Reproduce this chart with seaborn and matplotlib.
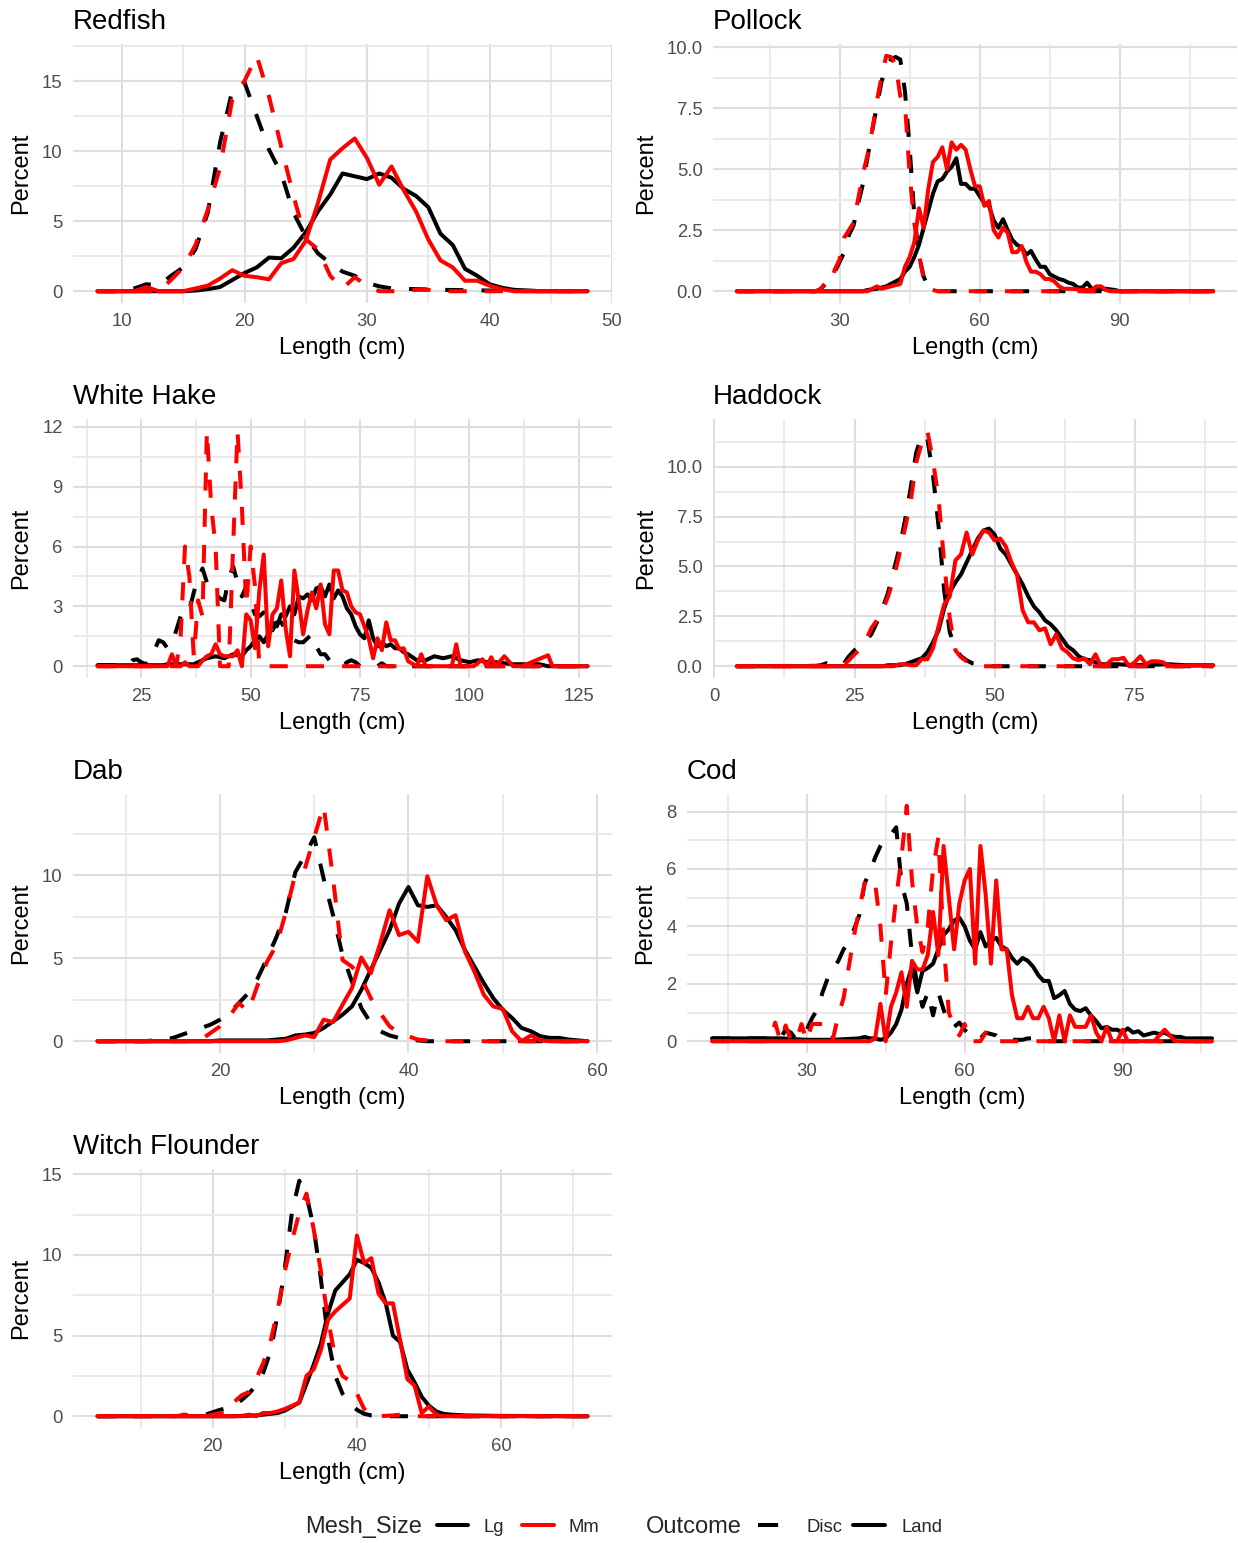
import pandas as pd
import matplotlib
matplotlib.use("Agg")
import matplotlib.pyplot as plt
from matplotlib.lines import Line2D
from matplotlib.ticker import MultipleLocator, FormatStrFormatter
import seaborn as sns

# -------------------------
# Length frequency data, (length cm, percent)
# -------------------------
redfish_lg_disc = [(8, 0), (10, 0), (11, 0.2), (12, 0.5), (13, 0.4), (14, 1.1), (15, 1.7), (16, 3.0), (17, 5.6),
                   (18, 10.6), (19, 14.3), (20, 14.9), (21, 12.5), (22, 10.1), (23, 8.4), (24, 5.6), (25, 3.9),
                   (26, 2.7), (27, 2.0), (28, 1.4), (29, 1.1), (30, 0.6), (31, 0.35), (32, 0.2), (34, 0.15),
                   (36, 0.1), (40, 0.05), (48, 0)]
redfish_lg_land = [(8, 0), (15, 0), (16, 0.05), (17, 0.15), (18, 0.3), (19, 0.8), (20, 1.3), (21, 1.7), (22, 2.4),
                   (23, 2.35), (24, 3.1), (25, 4.2), (26, 5.7), (27, 6.9), (28, 8.4), (29, 8.2), (30, 8.0),
                   (31, 8.4), (32, 8.1), (33, 7.3), (34, 6.8), (35, 6.0), (36, 4.1), (37, 3.3), (38, 1.6),
                   (39, 1.1), (40, 0.5), (41, 0.25), (42, 0.1), (43, 0.05), (44, 0), (48, 0)]
redfish_mm_disc = [(8, 0), (13, 0), (14, 0.8), (15, 1.7), (16, 3.3), (17, 5.8), (18, 8.8), (19, 13.7), (20, 15.0),
                   (21, 16.8), (22, 13.9), (23, 10.3), (24, 6.8), (25, 3.7), (26, 3.0), (27, 1.1), (28, 0.2),
                   (29, 1.0), (30, 0.4), (31, 0), (33, 0), (34, 0.1), (35, 0.1), (36, 0), (48, 0)]
redfish_mm_land = [(8, 0), (11, 0), (12, 0.3), (13, 0), (15, 0), (16, 0.2), (17, 0.4), (18, 0.9), (19, 1.5),
                   (20, 1.1), (21, 1.0), (22, 0.85), (23, 2.0), (24, 2.3), (25, 3.6), (26, 6.3), (27, 9.4),
                   (28, 10.2), (29, 10.9), (30, 9.5), (31, 7.6), (32, 8.9), (33, 7.2), (34, 5.7), (35, 3.7),
                   (36, 2.2), (37, 1.7), (38, 0.75), (39, 0.75), (40, 0.4), (41, 0.15), (42, 0), (48, 0)]

pollock_lg_disc = [(8, 0), (25, 0), (26, 0.1), (27, 0.3), (28, 0.4), (29, 0.8), (30, 1.2), (31, 1.6), (32, 2.3),
                   (33, 2.7), (34, 3.6), (35, 4.4), (36, 5.5), (37, 6.6), (38, 7.6), (39, 8.6), (40, 9.2),
                   (41, 9.5), (42, 9.6), (43, 9.5), (44, 8.2), (45, 5.9), (46, 3.1), (47, 1.5), (48, 0.6),
                   (49, 0.2), (50, 0.05), (51, 0), (110, 0)]
pollock_lg_land = [(8, 0), (35, 0), (36, 0.05), (38, 0.1), (39, 0.15), (40, 0.2), (41, 0.3), (42, 0.4), (43, 0.5),
                   (44, 0.8), (45, 1.0), (46, 1.4), (47, 1.9), (48, 2.6), (49, 3.3), (50, 4.0), (51, 4.5),
                   (52, 4.6), (53, 4.9), (54, 5.1), (55, 5.45), (56, 4.4), (57, 4.4), (58, 4.2), (59, 4.2),
                   (60, 3.9), (61, 3.6), (62, 3.5), (63, 2.9), (64, 2.6), (65, 2.95), (66, 2.5), (67, 2.1),
                   (68, 1.9), (69, 1.8), (70, 1.5), (71, 1.65), (72, 1.3), (73, 1.0), (74, 1.0), (75, 0.7),
                   (76, 0.6), (77, 0.5), (78, 0.45), (79, 0.35), (80, 0.3), (81, 0.15), (82, 0.15), (83, 0.35),
                   (84, 0.1), (87, 0.1), (89, 0.05), (90, 0), (110, 0)]
pollock_mm_disc = [(8, 0), (25, 0), (26, 0.1), (27, 0.35), (28, 0.3), (29, 0.9), (30, 1.3), (31, 2.2), (32, 2.5),
                   (33, 2.8), (34, 3.8), (35, 4.8), (36, 5.6), (37, 6.6), (38, 7.8), (39, 8.8), (40, 9.65),
                   (41, 9.6), (42, 9.3), (43, 8.0), (44, 7.7), (45, 4.8), (46, 2.8), (47, 1.5), (48, 0.5),
                   (49, 0.1), (50, 0.05), (51, 0), (110, 0)]
pollock_mm_land = [(8, 0), (36, 0), (37, 0.1), (38, 0.2), (39, 0.1), (40, 0.15), (41, 0.2), (42, 0.25), (43, 0.3),
                   (44, 1.0), (45, 1.4), (46, 2.0), (47, 3.4), (48, 2.6), (49, 4.2), (50, 5.3), (51, 5.5),
                   (52, 5.9), (53, 5.0), (54, 6.1), (55, 5.8), (56, 6.0), (57, 5.8), (58, 5.0), (59, 4.3),
                   (60, 4.3), (61, 3.5), (62, 3.7), (63, 2.5), (64, 2.2), (65, 2.6), (66, 2.4), (67, 1.6),
                   (68, 1.6), (69, 1.85), (70, 1.2), (71, 0.8), (72, 0.8), (73, 0.7), (74, 0.5), (75, 0.5),
                   (76, 0.4), (77, 0.2), (78, 0.1), (80, 0.1), (82, 0.05), (84, 0.05), (85, 0.2), (86, 0.2),
                   (87, 0.05), (88, 0), (110, 0)]

whitehake_lg_disc = [(15, 0.05), (22, 0.05), (23, 0.3), (24, 0.35), (25, 0.2), (26, 0.1), (27, 0.3), (28, 0.8),
                     (29, 1.3), (30, 1.2), (31, 0.9), (32, 1.1), (33, 1.8), (34, 2.5), (35, 2.9), (36, 2.8),
                     (37, 3.7), (38, 4.4), (39, 4.9), (40, 4.2), (41, 4.0), (42, 3.6), (43, 3.4), (44, 3.3),
                     (45, 4.4), (46, 5.0), (47, 4.2), (48, 3.5), (49, 4.0), (50, 3.2), (51, 2.6), (52, 2.5),
                     (53, 2.7), (54, 2.1), (55, 1.8), (56, 2.2), (57, 2.2), (58, 1.8), (59, 1.5), (60, 1.3),
                     (61, 1.2), (62, 1.2), (63, 1.4), (64, 1.6), (65, 1.0), (66, 0.6), (67, 0.6), (68, 0.3),
                     (69, 0.1), (71, 0), (72, 0.2), (73, 0.3), (74, 0.2), (75, 0), (79, 0), (80, 0.15), (81, 0),
                     (127, 0)]
whitehake_lg_land = [(15, 0.05), (30, 0.05), (31, 0.1), (37, 0.1), (38, 0.2), (39, 0.3), (40, 0.4), (42, 0.5),
                     (44, 0.4), (46, 0.6), (48, 0.5), (49, 0.8), (50, 1.0), (51, 1.3), (52, 1.5), (53, 1.2),
                     (54, 1.6), (55, 2.2), (56, 2.0), (57, 2.6), (58, 2.5), (59, 3.0), (60, 2.6), (61, 3.5),
                     (62, 3.4), (63, 3.6), (64, 3.3), (65, 3.9), (66, 4.0), (67, 3.5), (68, 4.1), (69, 3.4),
                     (70, 3.8), (71, 3.5), (72, 2.9), (73, 2.6), (74, 2.0), (75, 1.6), (76, 1.4), (77, 2.3),
                     (78, 1.4), (79, 1.0), (80, 1.2), (81, 1.0), (82, 1.1), (83, 0.9), (84, 0.9), (85, 0.7),
                     (86, 0.6), (88, 0.3), (90, 0.3), (92, 0.5), (94, 0.4), (96, 0.5), (98, 0.3), (100, 0.2),
                     (102, 0.3), (104, 0.2), (106, 0.2), (110, 0.1), (116, 0.1), (118, 0), (127, 0)]
whitehake_mm_disc = [(15, 0), (33, 0), (34, 1.5), (35, 6.0), (36, 4.5), (37, 0.5), (38, 3.3), (39, 2.5),
                     (40, 11.8), (41, 8.0), (42, 6.0), (43, 0), (45, 0), (46, 6.0), (47, 11.8), (48, 8.0),
                     (49, 3.0), (50, 6.0), (51, 4.0), (52, 0), (127, 0)]
whitehake_mm_land = [(15, 0), (31, 0), (32, 0.6), (33, 0), (34, 0), (35, 0.2), (36, 0), (38, 0), (39, 0.3),
                     (40, 0.5), (41, 0.6), (42, 1.1), (43, 0.6), (44, 0.5), (45, 0.5), (46, 0.5), (47, 0.8),
                     (48, 0), (49, 2.6), (50, 2.3), (51, 0.9), (52, 3.8), (53, 5.6), (54, 1.0), (55, 2.6),
                     (56, 2.9), (57, 4.3), (58, 1.9), (59, 0.5), (60, 4.8), (61, 3.3), (62, 1.6), (63, 2.8),
                     (64, 3.7), (65, 2.9), (66, 4.1), (67, 2.1), (68, 1.6), (69, 4.8), (70, 4.8), (71, 3.8),
                     (72, 3.7), (73, 3.0), (74, 2.7), (75, 2.6), (76, 2.0), (77, 1.4), (78, 0.4), (79, 1.4),
                     (80, 0.8), (81, 2.2), (82, 1.3), (83, 1.3), (84, 0.85), (85, 0.9), (86, 0.25), (88, 0),
                     (89, 0.6), (90, 0), (96, 0), (97, 1.1), (98, 0), (101, 0), (103, 0.35), (104, 0),
                     (105, 0.45), (106, 0), (108, 0.5), (110, 0), (112, 0), (118, 0.55), (119, 0), (127, 0)]

haddock_lg_disc = [(4, 0), (18, 0.02), (19, 0.05), (20, 0.15), (21, 0.05), (23, 0.1), (24, 0.5), (25, 0.8),
                   (26, 1.0), (27, 1.3), (28, 1.6), (29, 2.2), (30, 2.9), (31, 3.7), (32, 4.8), (33, 5.9),
                   (34, 7.3), (35, 8.9), (36, 10.7), (37, 11.6), (38, 11.4), (39, 9.6), (40, 7.0), (41, 3.8),
                   (42, 1.7), (43, 0.9), (44, 0.5), (45, 0.3), (46, 0.15), (47, 0.1), (48, 0.05), (49, 0), (89, 0)]
haddock_lg_land = [(4, 0), (30, 0), (31, 0.05), (33, 0.05), (34, 0.1), (35, 0.2), (36, 0.3), (37, 0.4), (38, 0.7),
                   (39, 1.2), (40, 1.8), (41, 2.9), (42, 3.7), (43, 4.2), (44, 4.6), (45, 5.2), (46, 5.8),
                   (47, 6.4), (48, 6.8), (49, 6.9), (50, 6.6), (51, 5.9), (52, 5.6), (53, 5.1), (54, 4.6),
                   (55, 4.1), (56, 3.5), (57, 3.0), (58, 2.7), (59, 2.3), (60, 2.1), (61, 1.8), (62, 1.4),
                   (63, 1.0), (64, 0.8), (65, 0.5), (66, 0.35), (67, 0.3), (68, 0.2), (69, 0.1), (72, 0.1),
                   (75, 0.05), (81, 0.1), (84, 0.05), (89, 0.05)]
haddock_mm_disc = [(4, 0), (22, 0), (23, 0.05), (24, 0.3), (25, 0.6), (26, 0.85), (27, 1.3), (28, 1.9), (29, 2.3),
                   (30, 2.8), (31, 3.5), (32, 4.4), (33, 5.6), (34, 6.9), (35, 8.2), (36, 10.2), (37, 11.2),
                   (38, 11.8), (39, 10.3), (40, 8.4), (41, 5.2), (42, 2.4), (43, 0.8), (44, 0.45), (45, 0.25),
                   (46, 0.1), (47, 0.05), (48, 0), (89, 0)]
haddock_mm_land = [(4, 0), (32, 0), (33, 0.1), (34, 0.1), (35, 0.05), (36, 0.05), (37, 0.35), (38, 0.35),
                   (39, 0.9), (40, 2.0), (41, 3.1), (42, 3.5), (43, 5.3), (44, 5.6), (45, 6.7), (46, 5.6),
                   (47, 6.3), (48, 6.8), (49, 6.7), (50, 6.3), (51, 6.4), (52, 6.0), (53, 5.2), (54, 4.6),
                   (55, 2.8), (56, 2.2), (57, 2.2), (58, 1.8), (59, 1.9), (60, 1.1), (61, 1.6), (62, 0.9),
                   (63, 0.7), (64, 0.4), (65, 0.3), (66, 0.4), (67, 0.1), (68, 0.6), (69, 0), (70, 0.1),
                   (71, 0.35), (72, 0.35), (73, 0.42), (74, 0), (75, 0.2), (76, 0.5), (77, 0.1), (78, 0.25),
                   (79, 0.25), (80, 0.2), (81, 0.05), (82, 0), (89, 0.05)]

dab_lg_disc = [(7, 0), (12, 0), (13, 0.05), (14, 0.1), (15, 0.2), (16, 0.4), (17, 0.6), (18, 0.8), (19, 1.0),
               (20, 1.3), (21, 1.7), (22, 2.3), (23, 2.9), (24, 3.8), (25, 5.0), (26, 6.3), (27, 7.8), (28, 10.2),
               (29, 11.2), (30, 12.3), (31, 9.8), (32, 7.6), (33, 5.2), (34, 3.6), (35, 2.0), (36, 1.1),
               (37, 0.6), (38, 0.35), (39, 0.2), (40, 0.1), (41, 0.05), (42, 0), (59, 0)]
dab_lg_land = [(7, 0), (19, 0), (20, 0.05), (25, 0.05), (26, 0.1), (27, 0.15), (28, 0.35), (29, 0.4), (30, 0.5),
               (31, 0.8), (32, 1.2), (33, 1.6), (34, 2.1), (35, 3.1), (36, 4.3), (37, 5.5), (38, 6.7), (39, 8.3),
               (40, 9.3), (41, 8.2), (42, 8.1), (43, 8.2), (44, 7.5), (45, 6.7), (46, 5.5), (47, 4.5),
               (48, 3.5), (49, 2.6), (50, 1.9), (51, 1.4), (52, 0.8), (53, 0.6), (54, 0.3), (55, 0.2),
               (56, 0.2), (57, 0.1), (58, 0.05), (59, 0)]
dab_mm_disc = [(7, 0), (17, 0), (18, 0.1), (19, 0.5), (20, 0.9), (21, 1.5), (22, 2.3), (23, 1.8), (24, 3.4),
               (25, 4.8), (26, 5.8), (27, 7.8), (28, 10.1), (29, 10.4), (30, 12.3), (31, 14.2), (32, 9.8),
               (33, 4.9), (34, 4.5), (35, 3.8), (36, 2.6), (37, 1.7), (38, 0.9), (39, 0.5), (40, 0.3),
               (41, 0.1), (42, 0.05), (43, 0), (59, 0)]
dab_mm_land = [(7, 0), (26, 0), (27, 0.05), (28, 0.2), (29, 0.35), (30, 0.25), (31, 1.3), (32, 1.15), (33, 2.2),
               (34, 3.2), (35, 5.05), (36, 4.1), (37, 5.9), (38, 7.9), (39, 6.4), (40, 6.6), (41, 6.0),
               (42, 9.95), (43, 8.2), (44, 7.3), (45, 7.6), (46, 5.4), (47, 4.2), (48, 2.8), (49, 2.1),
               (50, 1.95), (51, 0.6), (52, 0), (53, 0.35), (54, 0.05), (55, 0), (59, 0)]

cod_lg_disc = [(12, 0.1), (25, 0.1), (26, 0.4), (27, 0.3), (28, 0.05), (29, 0.2), (30, 0.4), (31, 0.8), (32, 1.1),
               (33, 1.7), (34, 2.2), (35, 2.5), (36, 2.8), (37, 3.2), (38, 3.5), (39, 3.9), (40, 4.4), (41, 5.5),
               (42, 5.9), (43, 6.4), (44, 6.8), (45, 7.1), (46, 7.2), (47, 7.45), (48, 5.5), (49, 4.8),
               (50, 3.0), (51, 2.0), (52, 1.2), (53, 1.7), (54, 0.9), (55, 1.7), (56, 1.1), (57, 0.6),
               (58, 0.5), (59, 0.65), (60, 0.4), (61, 0.2), (62, 0.05), (63, 0.1), (64, 0.3), (65, 0.25),
               (66, 0.2), (67, 0.05), (71, 0.05), (72, 0.1), (73, 0.1), (74, 0), (107, 0)]
cod_lg_land = [(12, 0.1), (25, 0.1), (30, 0.05), (35, 0.05), (40, 0.1), (41, 0.15), (42, 0.1), (43, 0.1),
               (44, 0.05), (45, 0.1), (46, 0.3), (47, 0.6), (48, 1.1), (49, 2.0), (50, 2.6), (51, 1.7),
               (52, 2.45), (53, 2.55), (54, 2.7), (55, 3.2), (56, 3.7), (57, 3.9), (58, 4.2), (59, 4.3),
               (60, 4.0), (61, 3.5), (62, 3.2), (63, 3.8), (64, 3.3), (65, 3.5), (66, 3.6), (67, 3.3),
               (68, 3.2), (69, 2.9), (70, 2.7), (71, 2.9), (72, 2.8), (73, 2.6), (74, 2.3), (75, 2.1),
               (76, 2.1), (77, 1.5), (78, 1.6), (79, 1.75), (80, 1.3), (81, 1.1), (82, 1.05), (83, 1.15),
               (84, 0.9), (85, 0.7), (86, 0.45), (87, 0.5), (88, 0.4), (89, 0.4), (90, 0.3), (91, 0.45),
               (92, 0.3), (93, 0.35), (94, 0.2), (95, 0.25), (96, 0.3), (97, 0.25), (98, 0.3), (99, 0.2),
               (100, 0.15), (101, 0.15), (102, 0.1), (107, 0.1)]
cod_mm_disc = [(12, 0), (23, 0), (24, 0.65), (25, 0), (26, 0.55), (27, 0), (28, 0), (29, 0.6), (30, 0),
               (31, 0.6), (34, 0.6), (35, 0.1), (36, 0.9), (37, 1.5), (38, 2.6), (39, 3.7), (40, 4.6),
               (41, 5.5), (42, 5.3), (43, 5.5), (44, 4.0), (45, 1.6), (46, 3.4), (47, 5.0), (48, 6.4),
               (49, 8.2), (50, 5.6), (51, 4.0), (52, 3.1), (53, 4.0), (54, 6.0), (55, 7.1), (56, 3.5),
               (57, 1.0), (58, 0.5), (59, 0.2), (60, 0.6), (61, 0), (63, 0), (64, 0.3), (65, 0), (107, 0)]
cod_mm_land = [(12, 0), (42, 0), (43, 0.1), (44, 1.3), (45, 0), (46, 1.2), (47, 1.7), (48, 2.4), (49, 1.2),
               (50, 2.8), (51, 2.5), (52, 2.5), (53, 3.0), (54, 4.5), (55, 3.0), (56, 6.8), (57, 5.0),
               (58, 3.2), (59, 4.8), (60, 5.6), (61, 6.0), (62, 2.7), (63, 6.8), (64, 5.1), (65, 2.7),
               (66, 5.6), (67, 3.2), (68, 3.2), (69, 1.6), (70, 0.8), (71, 0.8), (72, 1.2), (73, 0.8),
               (74, 0.8), (75, 1.2), (76, 0.8), (77, 0), (78, 0.9), (79, 0), (80, 0.9), (81, 0.5), (82, 0.5),
               (83, 0.5), (84, 0.9), (85, 0.3), (86, 0), (87, 0.5), (88, 0), (89, 0), (90, 0.4), (91, 0),
               (96, 0), (98, 0.4), (100, 0), (107, 0)]

witch_lg_disc = [(4, 0), (17, 0.02), (18, 0.05), (19, 0.1), (20, 0.25), (21, 0.4), (22, 0.5), (23, 0.7),
                 (24, 1.0), (25, 1.4), (26, 1.9), (27, 2.7), (28, 4.0), (29, 6.3), (30, 9.2), (31, 12.7),
                 (32, 14.6), (33, 13.7), (34, 11.7), (35, 8.5), (36, 4.8), (37, 2.5), (38, 1.4), (39, 0.8),
                 (40, 0.4), (41, 0.15), (42, 0.05), (44, 0), (72, 0)]
witch_lg_land = [(4, 0), (23, 0), (24, 0.02), (26, 0.05), (27, 0.1), (28, 0.15), (29, 0.2), (30, 0.35),
                 (31, 0.6), (32, 0.85), (33, 2.0), (34, 3.2), (35, 4.5), (36, 6.4), (37, 7.8), (38, 8.3),
                 (39, 8.8), (40, 9.7), (41, 9.5), (42, 9.2), (43, 8.3), (44, 7.0), (45, 5.0), (46, 4.6),
                 (47, 2.9), (48, 2.1), (49, 1.2), (50, 0.65), (51, 0.3), (52, 0.15), (53, 0.1), (55, 0.05),
                 (60, 0.02), (72, 0)]
witch_mm_disc = [(4, 0), (15, 0), (16, 0.1), (17, 0.05), (18, 0), (19, 0), (20, 0.1), (21, 0.2), (22, 0.15),
                 (23, 0.9), (24, 1.3), (25, 1.5), (26, 2.3), (27, 3.3), (28, 4.6), (29, 6.6), (30, 9.0),
                 (31, 10.9), (32, 12.6), (33, 13.8), (34, 11.6), (35, 9.0), (36, 6.0), (37, 3.6), (38, 2.5),
                 (39, 2.2), (40, 1.4), (41, 0.45), (42, 0.05), (43, 0), (45, 0.05), (46, 0.1), (47, 0.05),
                 (48, 0), (72, 0)]
witch_mm_land = [(4, 0), (24, 0), (25, 0.1), (26, 0), (27, 0.2), (28, 0.2), (29, 0.3), (30, 0.45), (31, 0.65),
                 (32, 0.85), (33, 2.5), (34, 2.9), (35, 4.1), (36, 6.0), (37, 6.5), (38, 6.9), (39, 7.3),
                 (40, 11.2), (41, 9.5), (42, 9.8), (43, 7.6), (44, 7.0), (45, 7.0), (46, 4.7), (47, 2.3),
                 (48, 1.9), (49, 0.2), (50, 0.6), (51, 0.1), (52, 0), (72, 0)]

species = ["Redfish", "Pollock", "White Hake", "Haddock", "Dab", "Cod", "Witch Flounder"]
species_series = [
    (redfish_lg_disc, redfish_lg_land, redfish_mm_disc, redfish_mm_land),
    (pollock_lg_disc, pollock_lg_land, pollock_mm_disc, pollock_mm_land),
    (whitehake_lg_disc, whitehake_lg_land, whitehake_mm_disc, whitehake_mm_land),
    (haddock_lg_disc, haddock_lg_land, haddock_mm_disc, haddock_mm_land),
    (dab_lg_disc, dab_lg_land, dab_mm_disc, dab_mm_land),
    (cod_lg_disc, cod_lg_land, cod_mm_disc, cod_mm_land),
    (witch_lg_disc, witch_lg_land, witch_mm_disc, witch_mm_land),
]
series_keys = [("Lg", "Disc"), ("Lg", "Land"), ("Mm", "Disc"), ("Mm", "Land")]

x_major = [10, 30, 25, 25, 20, 30, 20]
y_major = [5, 2.5, 3, 2.5, 5, 2, 5]
y_fmt = ["%g", "%.1f", "%g", "%.1f", "%g", "%g", "%g"]

# -------------------------
# Style
# -------------------------
sns.set_style("white")
plt.rcParams["font.family"] = ["Liberation Sans", "DejaVu Sans"]

W, H = 1238, 1543
fig = plt.figure(figsize=(W / 100, H / 100), dpi=100)

# panel boxes in pixels: left, right, top (bottom = top + 259)
panel_left = [73, 713, 73, 713, 73, 687, 73]
panel_right = [612, 1237, 612, 1237, 612, 1237, 612]
panel_top = [44, 44, 419, 419, 794, 794, 1169]
panel_h = 259

LW = 2.9
palette = {"Lg": "black", "Mm": "#FF0000"}
dash_map = {"Disc": (4.5, 4.5), "Land": ""}

for i, name in enumerate(species):
    rows = []
    for (mesh, outcome), pts in zip(series_keys, species_series[i]):
        for length, pct in pts:
            rows.append({"Length": length, "Percent": pct, "Mesh_Size": mesh, "Outcome": outcome})
    df = pd.DataFrame(rows)

    l, r, t = panel_left[i], panel_right[i], panel_top[i]
    ax = fig.add_axes([l / W, 1 - (t + panel_h) / H, (r - l) / W, panel_h / H])

    sns.lineplot(data=df, x="Length", y="Percent", hue="Mesh_Size", style="Outcome",
                 hue_order=["Lg", "Mm"], style_order=["Disc", "Land"],
                 palette=palette, dashes=dash_map, linewidth=LW,
                 estimator=None, legend=False, ax=ax)

    xmin, xmax = df["Length"].min(), df["Length"].max()
    ymax = df["Percent"].max()
    ax.set_xlim(xmin - 0.05 * (xmax - xmin), xmax + 0.05 * (xmax - xmin))
    ax.set_ylim(-0.05 * ymax, 1.05 * ymax)

    ax.xaxis.set_major_locator(MultipleLocator(x_major[i]))
    ax.xaxis.set_minor_locator(MultipleLocator(x_major[i] / 2))
    ax.yaxis.set_major_locator(MultipleLocator(y_major[i]))
    ax.yaxis.set_minor_locator(MultipleLocator(y_major[i] / 2))
    ax.yaxis.set_major_formatter(FormatStrFormatter(y_fmt[i]))

    ax.grid(which="major", color="#DEDEDE", linewidth=1.5)
    ax.grid(which="minor", color="#E8E8E8", linewidth=1.3)
    ax.set_axisbelow(True)
    for s in ax.spines.values():
        s.set_visible(False)

    ax.tick_params(which="both", length=0, pad=7.5, labelsize=13.3, labelcolor="#4D4D4D")
    ax.set_xlabel("Length (cm)", fontsize=17, color="black", labelpad=5)
    ax.set_ylabel("Percent", fontsize=17, color="black", labelpad=7)
    ax.set_title(name, loc="left", fontsize=20, color="black", pad=11)

# -------------------------
# Shared legend at the bottom
# -------------------------
ly = 1 - 1527 / H
fig.text(305 / W, ly, "Mesh_Size", fontsize=17, va="center", ha="left")
fig.text(646 / W, ly, "Outcome", fontsize=17, va="center", ha="left")

mesh_handles = [Line2D([], [], color="black", lw=LW), Line2D([], [], color="#FF0000", lw=LW)]
leg1 = fig.legend(mesh_handles, ["Lg", "Mm"], loc="center left", bbox_to_anchor=(437 / W, ly),
                  ncol=2, frameon=False, fontsize=13.3, handlelength=1.7, handletextpad=0.8,
                  columnspacing=1.0, borderpad=0, borderaxespad=0)
out_handles = [Line2D([], [], color="black", lw=LW, dashes=(5, 7)), Line2D([], [], color="black", lw=LW)]
leg2 = fig.legend(out_handles, ["Disc", "Land"], loc="center left", bbox_to_anchor=(758 / W, ly),
                  ncol=2, frameon=False, fontsize=13.3, handlelength=1.7, handletextpad=0.9,
                  columnspacing=0.6, borderpad=0, borderaxespad=0)

fig.savefig("out.png", dpi=100)
plt.close(fig)
